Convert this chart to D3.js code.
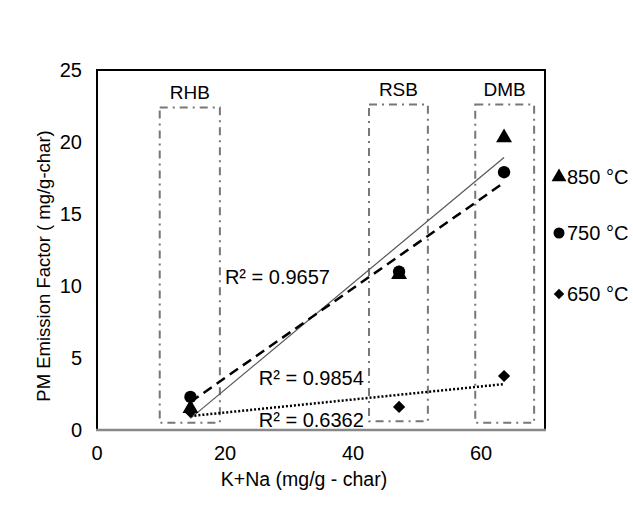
<!DOCTYPE html>
<html>
<head>
<meta charset="utf-8">
<script src="https://cdn.jsdelivr.net/npm/d3@7"></script>
<style>
  body { margin: 0; background: #fff; }
  svg text { font-family: "Liberation Sans", Arial, sans-serif; fill: #000; }
</style>
</head>
<body>
<svg id="chart"></svg>
<script>
const kna = [14.6, 47.2, 63.6];
const pm850 = [1.5, 10.8, 20.3];
const pm750 = [2.3, 11.0, 17.9];
const pm650 = [1.25, 1.6, 3.75];
const seriesNames = ["850 °C", "750 °C", "650 °C"];
const r2Labels = ["R² = 0.9657", "R² = 0.9854", "R² = 0.6362"];
const boxLabels = ["RHB", "RSB", "DMB"];
const boxX0 = [9.8, 42.5, 59.1];
const boxX1 = [19.2, 51.7, 68.3];
const boxTop = [22.4, 22.6, 22.6];
const boxBottom = [0.5, 0.6, 0.5];
const xTicks = [0, 20, 40, 60];
const yTicks = [0, 5, 10, 15, 20, 25];

const size = { width: 633, height: 507 };
const margin = { top: 70, right: 88, bottom: 77, left: 97 };

const svg = d3.select("#chart").attr("width", size.width).attr("height", size.height);

const x = d3.scaleLinear().domain([0, 70]).range([margin.left, size.width - margin.right]);
const y = d3.scaleLinear().domain([0, 25]).range([size.height - margin.bottom, margin.top]);

// plot frame
svg.append("path")
  .attr("d", `M ${x(0)} ${y(0)} V ${y(25)} H ${x(70)} V ${y(0)}`)
  .attr("fill", "none")
  .attr("stroke", "#000")
  .attr("stroke-width", 2);
svg.append("line")
  .attr("x1", x(0) - 1).attr("x2", x(70) + 1)
  .attr("y1", y(0)).attr("y2", y(0))
  .attr("stroke", "#888")
  .attr("stroke-width", 2.5);

// tick labels
svg.append("g").selectAll("text").data(yTicks).enter().append("text")
  .attr("x", margin.left - 15)
  .attr("y", (d) => y(d))
  .attr("dy", "0.35em")
  .attr("text-anchor", "end")
  .attr("font-size", 20)
  .text((d) => d);

svg.append("g").selectAll("text").data(xTicks).enter().append("text")
  .attr("x", (d) => x(d))
  .attr("y", y(0) + 23)
  .attr("dy", "0.35em")
  .attr("text-anchor", "middle")
  .attr("font-size", 20)
  .text((d) => d);

// axis titles
svg.append("text")
  .attr("x", 304).attr("y", 479)
  .attr("dy", "0.35em")
  .attr("text-anchor", "middle")
  .attr("font-size", 19.5)
  .text("K+Na (mg/g - char)");

svg.append("text")
  .attr("transform", "translate(44, 266) rotate(-90)")
  .attr("dy", "0.35em")
  .attr("text-anchor", "middle")
  .attr("font-size", 18.5)
  .text("PM Emission Factor ( mg/g-char)");

// biomass boxes
boxLabels.forEach((lab, i) => {
  svg.append("rect")
    .attr("x", x(boxX0[i]))
    .attr("y", y(boxTop[i]))
    .attr("width", x(boxX1[i]) - x(boxX0[i]))
    .attr("height", y(boxBottom[i]) - y(boxTop[i]))
    .attr("fill", "none")
    .attr("stroke", "#777")
    .attr("stroke-width", 2)
    .attr("stroke-dasharray", "8,5,2,5");
  svg.append("text")
    .attr("x", (x(boxX0[i]) + x(boxX1[i])) / 2)
    .attr("y", y(boxTop[i]) - 15)
    .attr("dy", "0.35em")
    .attr("text-anchor", "middle")
    .attr("font-size", 19)
    .text(lab);
});

// linear trendlines (least squares)
const fit = (ys) => {
  const mx = d3.mean(kna), my = d3.mean(ys);
  const sxy = d3.sum(kna, (v, i) => (v - mx) * (ys[i] - my));
  const sxx = d3.sum(kna, (v) => (v - mx) * (v - mx));
  const b = sxy / sxx;
  return (v) => my + b * (v - mx);
};
const xr = d3.extent(kna);
const trendStyle = [
  { w: 1.2, dash: null, color: "#555" },
  { w: 2.5, dash: "10,6", color: "#000" },
  { w: 2.5, dash: "2,2", color: "#000" }
];
[pm850, pm750, pm650].forEach((ys, i) => {
  const f = fit(ys);
  svg.append("line")
    .attr("x1", x(xr[0])).attr("y1", y(f(xr[0])))
    .attr("x2", x(xr[1])).attr("y2", y(f(xr[1])))
    .attr("stroke", trendStyle[i].color)
    .attr("stroke-width", trendStyle[i].w)
    .attr("stroke-dasharray", trendStyle[i].dash);
});

// markers (diamond = square turned 45°)
const symbols = [d3.symbolTriangle, d3.symbolCircle, d3.symbolSquare];
const symSize = [110, 120, 75];
const symRot = [0, 0, 45];
[pm850, pm750, pm650].forEach((ys, i) => {
  svg.append("g").selectAll("path").data(ys).enter().append("path")
    .attr("transform", (d, j) => `translate(${x(kna[j])}, ${y(d)}) rotate(${symRot[i]})`)
    .attr("d", d3.symbol().type(symbols[i]).size(symSize[i]))
    .attr("fill", "#000");
});

// R² labels
const r2x = [36.4, 41.7, 41.7];
const r2y = [10.6, 3.6, 0.7];
r2Labels.forEach((t, i) => {
  svg.append("text")
    .attr("x", x(r2x[i])).attr("y", y(r2y[i]))
    .attr("dy", "0.35em")
    .attr("text-anchor", "end")
    .attr("font-size", 20)
    .text(t);
});

// legend
const legendY = [177, 233, 294];
const legendSize = [95, 95, 55];
seriesNames.forEach((name, i) => {
  svg.append("path")
    .attr("transform", `translate(559, ${legendY[i]}) rotate(${symRot[i]})`)
    .attr("d", d3.symbol().type(symbols[i]).size(legendSize[i]))
    .attr("fill", "#000");
  svg.append("text")
    .attr("x", 567).attr("y", legendY[i])
    .attr("dy", "0.35em")
    .attr("font-size", 20)
    .text(name);
});
</script>
</body>
</html>
